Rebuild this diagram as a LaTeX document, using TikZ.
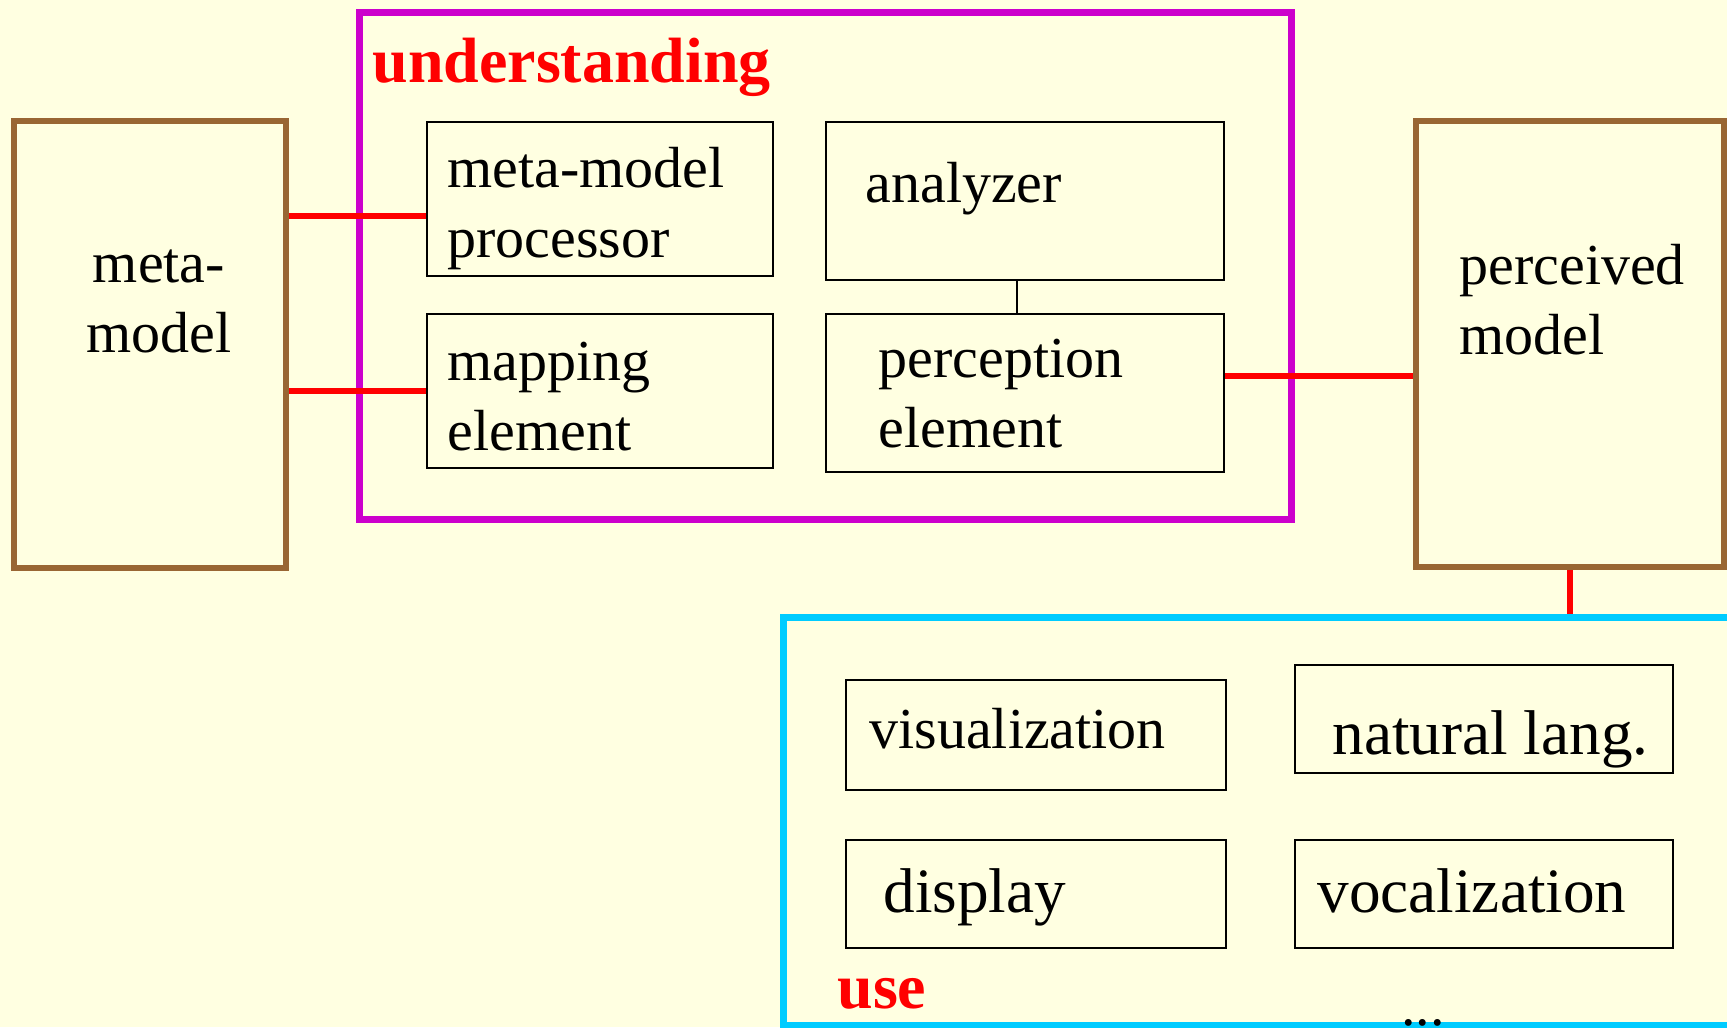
\documentclass[tikz,border=0pt]{standalone}
\usepackage{fontspec}
\setmainfont{Liberation Serif}
\definecolor{paper}{RGB}{255,255,225}
\definecolor{frameM}{RGB}{204,0,204}
\definecolor{frameB}{RGB}{153,102,51}
\definecolor{frameC}{RGB}{0,204,255}
\tikzset{every picture/.style={line width=0.5pt}}

\begin{document}
\begin{tikzpicture}[x=0.5pt,y=-0.5pt,
  box/.style={draw=black,line width=1.25pt,inner sep=0pt},
  model/.style={draw=frameB,line width=2.75pt,inner sep=0pt},
  lbl/.style={inner sep=0pt,anchor=base west,align=left,font=\fontsize{29}{35}\selectfont},
  biglbl/.style={lbl,font=\fontsize{31.6}{37}\selectfont},
  head/.style={inner sep=0pt,anchor=base west,text=red,font=\fontsize{32}{38}\selectfont\bfseries},
  wire/.style={red,line width=2.75pt}]
\useasboundingbox (0,0) rectangle (1727,1027);
\clip (0,0) rectangle (1727,1027);
\fill[paper] (0,0) rectangle (1727,1027);
\node[model,minimum width=136pt,minimum height=223.5pt] (meta) at (150,344.5) {};
\node[lbl,anchor=base,align=center] (metaT) at (159,352) {meta-\\model};
\node[model,minimum width=154pt,minimum height=223pt] (perc) at (1570,344) {};
\node[lbl] (percT) at (1459,354) {perceived\\model};
\node[draw=frameM,line width=3.5pt,inner sep=0pt,minimum width=466pt,minimum height=253pt] (und) at (825,266) {};
\node[head] (undT) at (372,83) {understanding};
\node[box,minimum width=173pt,minimum height=77pt] (proc) at (600,199) {};
\node[lbl] (procT) at (447,257) {meta-model\\processor};
\node[box,minimum width=173pt,minimum height=77pt] (map) at (600,391) {};
\node[lbl] (mapT) at (447,450) {mapping\\element};
\node[box,minimum width=199pt,minimum height=79pt] (ana) at (1025,201) {};
\node[lbl] (anaT) at (865,203) {analyzer};
\node[box,minimum width=199pt,minimum height=79pt] (perce) at (1025,393) {};
\node[lbl] (perceT) at (878,447) {perception\\element};
\node[draw=frameC,line width=3.5pt,inner sep=0pt,minimum width=508.5pt,minimum height=204pt] (use) at (1291.5,821) {};
\node[box,minimum width=190pt,minimum height=55pt] (vis) at (1036,735) {};
\node[lbl] (visT) at (869,748) {visualization};
\node[box,minimum width=189pt,minimum height=54pt] (nat) at (1484,719) {};
\node[biglbl] (natT) at (1332,754) {natural lang.};
\node[box,minimum width=190pt,minimum height=54pt] (disp) at (1036,894) {};
\node[biglbl] (dispT) at (883,912) {display};
\node[box,minimum width=189pt,minimum height=54pt] (voc) at (1484,894) {};
\node[biglbl] (vocT) at (1317,912) {vocalization};
\node[head] (useT) at (837,1008) {use};
\node[lbl,anchor=base] (more) at (1423,1025) {...};
\coordinate (yA) at (0,216);
\coordinate (yB) at (0,376);
\coordinate (xC) at (1017,0);
\draw[wire] (meta.east |- yA) -- (proc.west |- yA);
\draw[wire] (meta.east |- map.west) -- (map.west);
\draw[wire] (perce.east |- yB) -- (perc.west |- yB);
\draw[line width=1pt] (ana.south -| xC) -- (perce.north -| xC);
\draw[wire] (perc.south) -- (perc.south |- use.north);
\end{tikzpicture}
\end{document}
